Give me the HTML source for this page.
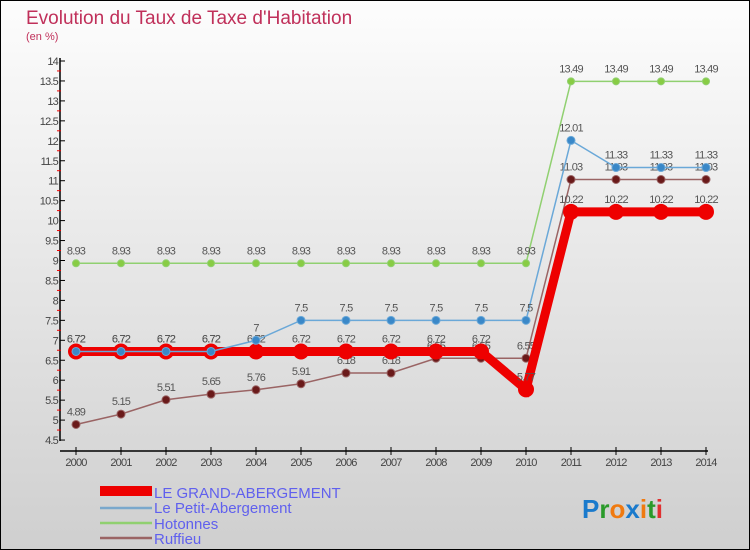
<!DOCTYPE html>
<html><head><meta charset="utf-8"><style>
body{margin:0;width:750px;height:550px;overflow:hidden;}
svg{display:block;font-family:"Liberation Sans",sans-serif;}
</style></head><body>
<svg id="chart" width="750" height="550">
<defs><linearGradient id="bg" x1="0" y1="0" x2="0" y2="1"><stop offset="0" stop-color="#fdfdfd"/><stop offset="1" stop-color="#cfcfcf"/></linearGradient></defs>
<rect x="0.5" y="0.5" width="749" height="549" fill="url(#bg)" stroke="#000"/>
<text x="26" y="24" font-size="19" fill="#c0305a">Evolution du Taux de Taxe d'Habitation</text>
<text x="26" y="40" font-size="11" fill="#c0305a">(en %)</text>
<g id="axes"></g><g id="series"></g>
<g font-size="15">
<rect x="100" y="486" width="52" height="10" fill="#e00"/>
<text x="154" y="498" fill="#6060ee">LE GRAND-ABERGEMENT</text>
<line x1="100" y1="508" x2="152" y2="508" stroke="#7aa8cc" stroke-width="2.5"/>
<text x="154" y="513" fill="#6060ee">Le Petit-Abergement</text>
<line x1="100" y1="523" x2="152" y2="523" stroke="#90d070" stroke-width="2.5"/>
<text x="154" y="529" fill="#6060ee">Hotonnes</text>
<line x1="100" y1="538" x2="152" y2="538" stroke="#9a6464" stroke-width="2.5"/>
<text x="154" y="544" fill="#6060ee">Ruffieu</text>
</g>
<text x="582" y="518" font-size="26" font-weight="bold"><tspan fill="#1a7acc">P</tspan><tspan fill="#2a9a2a">r</tspan><tspan fill="#f07a10">o</tspan><tspan fill="#1a7acc">x</tspan><tspan fill="#f07a10">i</tspan><tspan fill="#2a9a2a">t</tspan><tspan fill="#e03030">i</tspan></text>
</svg>
<script>
const years=[2000,2001,2002,2003,2004,2005,2006,2007,2008,2009,2010,2011,2012,2013,2014];
const grand=[6.72,6.72,6.72,6.72,6.72,6.72,6.72,6.72,6.72,6.72,5.77,10.22,10.22,10.22,10.22];
const petit=[6.72,6.72,6.72,6.72,7,7.5,7.5,7.5,7.5,7.5,7.5,12.01,11.33,11.33,11.33];
const hotonnes=[8.93,8.93,8.93,8.93,8.93,8.93,8.93,8.93,8.93,8.93,8.93,13.49,13.49,13.49,13.49];
const ruffieu=[4.89,5.15,5.51,5.65,5.76,5.91,6.18,6.18,6.55,6.55,6.55,11.03,11.03,11.03,11.03];
const yTicks=[4.5,5,5.5,6,6.5,7,7.5,8,8.5,9,9.5,10,10.5,11,11.5,12,12.5,13,13.5,14];
const NS="http://www.w3.org/2000/svg";
const xs=i=>76+i*45;
const ys=v=>61+(14-v)*39.9;
function mk(t,a,p){const e=document.createElementNS(NS,t);for(const k in a)e.setAttribute(k,a[k]);p.appendChild(e);return e;}
const ax=document.getElementById('axes');
const ya=mk('line',{x1:60,y1:58,x2:60,y2:441,stroke:'#000','stroke-width':1.5},ax);


const xa=mk('line',{x1:60,y1:451,x2:708,y2:451,stroke:'#000','stroke-width':1.5},ax);


yTicks.forEach(v=>{const y=ys(v);
mk('line',{x1:60,y1:y,x2:65,y2:y,stroke:'#000'},ax);
if(v<14)mk('line',{x1:57,y1:y-10,x2:61,y2:y-10,stroke:'#e00'},ax);
const t=mk('text',{x:58,y:y+4,'text-anchor':'end','font-size':11,fill:'#444','letter-spacing':'-0.8'},ax);t.textContent=v;

});
years.forEach((yr,i)=>{const x=xs(i);
mk('line',{x1:x,y1:447,x2:x,y2:455,stroke:'#000'},ax);
const t=mk('text',{x:x,y:466,'text-anchor':'middle','font-size':11,fill:'#444','letter-spacing':'-0.8'},ax);t.textContent=yr;

});
const sg=document.getElementById('series');
function draw(name,data,color,w,r,fill,labelCol){
const g=mk('g',{},sg);


const l=mk('polyline',{points:data.map((v,i)=>xs(i)+','+ys(v)).join(' '),fill:'none',stroke:color,'stroke-width':w},g);


data.forEach((v,i)=>{const c=mk('circle',{cx:xs(i),cy:ys(v),r:r,fill:fill,stroke:color,'stroke-width':1},g);


const t=mk('text',{x:xs(i),y:ys(v)-9,'text-anchor':'middle','font-size':11,fill:'#555','letter-spacing':'-0.8'},g);t.textContent=v;

});
}
draw('hotonnes',hotonnes,'#90d070',1.5,3.5,'#88cc44');
draw('ruffieu',ruffieu,'#9a6464',1.5,4,'#6a1a1a');
draw('grand',grand,'#ee0000',9,7.5,'#ee0000');
draw('petit',petit,'#6aa8d8',1.5,4,'#3a88c8');
</script>
</body></html>
